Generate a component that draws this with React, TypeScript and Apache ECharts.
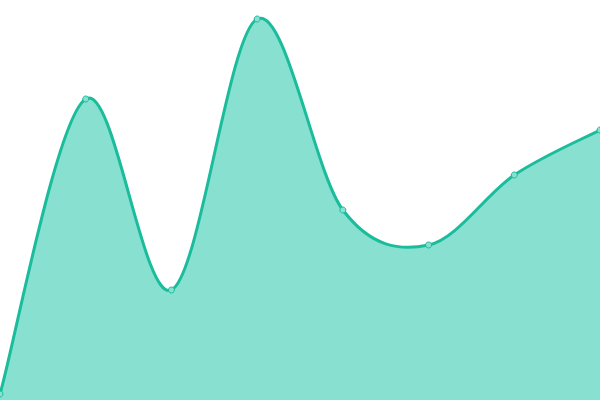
import React, { useEffect, useRef } from "react";
import * as echarts from "echarts";

const categories = ["1", "2", "3", "4", "5", "6", "7", "8"];
const values = [6, 301, 110, 381, 190, 155, 225, 270];

const lineColor = "#1abc9c";
const areaColor = "#88e0d0";

// catmull-rom style curve through the mapped points
const curvePath = (pts: number[][]) => {
    let d = `M${pts[0][0]},${pts[0][1]}`;
    for (let i = 0; i < pts.length - 1; i++) {
        const p0 = pts[Math.max(i - 1, 0)];
        const p1 = pts[i];
        const p2 = pts[i + 1];
        const p3 = pts[Math.min(i + 2, pts.length - 1)];
        const c1x = p1[0] + (p2[0] - p0[0]) / 6;
        const c1y = p1[1] + (p2[1] - p0[1]) / 6;
        const c2x = p2[0] - (p3[0] - p1[0]) / 6;
        const c2y = p2[1] - (p3[1] - p1[1]) / 6;
        d += ` C${c1x},${c1y} ${c2x},${c2y} ${p2[0]},${p2[1]}`;
    }
    return d;
};

const App: React.FC = () => {
    const chartRef = useRef<HTMLDivElement>(null);

    useEffect(() => {
        if (!chartRef.current) return;
        const chart = echarts.init(chartRef.current, undefined, { renderer: "svg" });
        chart.setOption({
            animation: false,
            grid: { left: 0, right: 0, top: 0, bottom: 0 },
            xAxis: {
                type: "category",
                data: categories,
                boundaryGap: false,
                show: false,
            },
            yAxis: {
                type: "value",
                min: 0,
                max: 400,
                show: false,
            },
            series: [
                {
                    type: "custom",
                    z: 1,
                    silent: true,
                    data: values.map((v, i) => [i, v]),
                    encode: { x: 0, y: 1 },
                    renderItem: (params: any, api: any) => {
                        if (params.dataIndex !== 0) return null;
                        const pts = values.map((v, i) => api.coord([i, v]));
                        const line = curvePath(pts);
                        const lastBottom = api.coord([values.length - 1, 0]);
                        const firstBottom = api.coord([0, 0]);
                        const area = `${line} L${lastBottom[0]},${lastBottom[1]} L${firstBottom[0]},${firstBottom[1]} Z`;
                        return {
                            type: "group",
                            children: [
                                {
                                    type: "path",
                                    shape: { pathData: area },
                                    style: { fill: areaColor, stroke: "none" },
                                },
                                {
                                    type: "path",
                                    shape: { pathData: line },
                                    style: { fill: "none", stroke: lineColor, lineWidth: 3 },
                                },
                            ],
                        };
                    },
                },
                {
                    type: "line",
                    z: 3,
                    data: values,
                    symbol: "circle",
                    symbolSize: 6,
                    lineStyle: { width: 0, opacity: 0 },
                    itemStyle: { color: areaColor, borderColor: lineColor, borderWidth: 1 },
                },
            ],
        });
        return () => chart.dispose();
    }, []);

    return (
        <div
            ref={chartRef}
            style={{ position: "fixed", left: 0, top: 0, width: 600, height: 400, background: "#fff" }}
        />
    );
};

export default App;
